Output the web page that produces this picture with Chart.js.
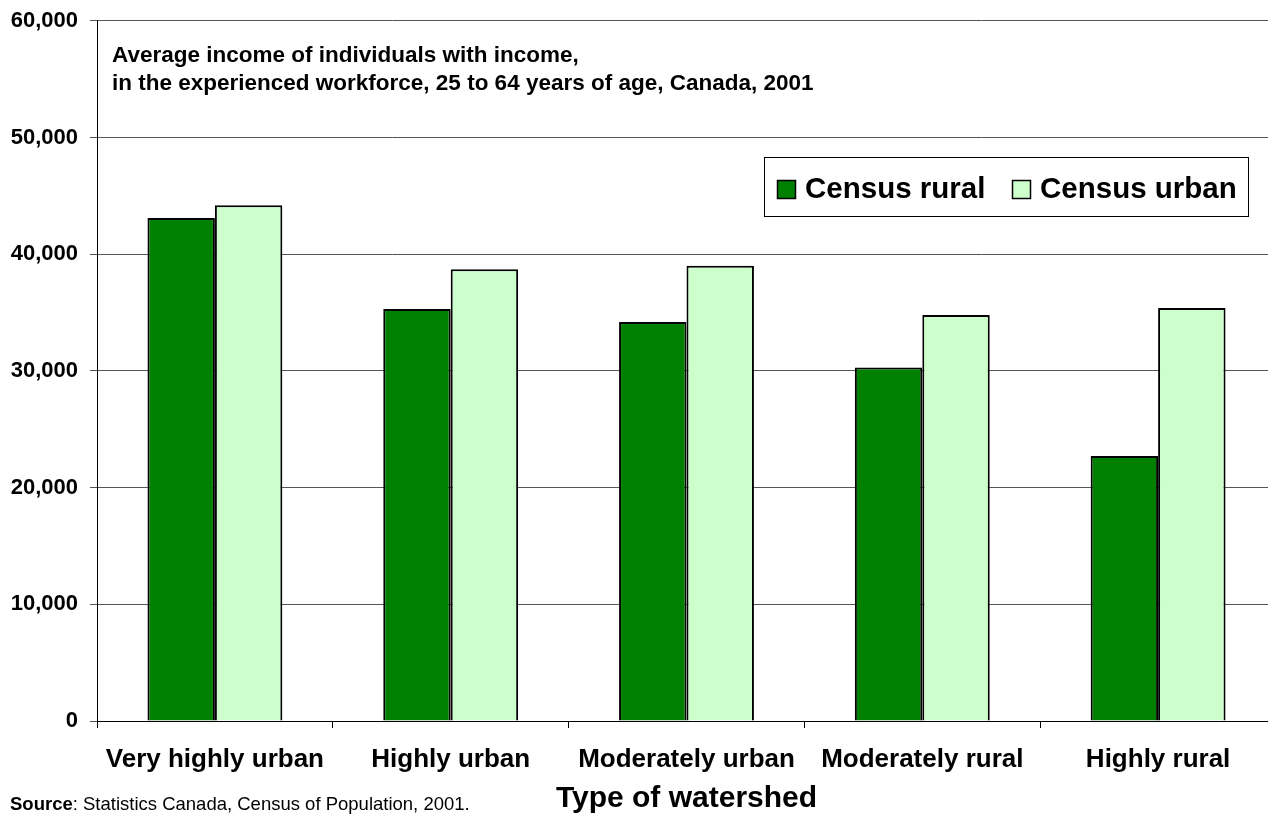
<!DOCTYPE html>
<html>
<head>
<meta charset="utf-8">
<script src="https://cdn.jsdelivr.net/npm/chart.js@4/dist/chart.umd.min.js"></script>
<style>
  body { margin: 0; overflow: hidden; background: #fff; }
  #wrap { position: relative; width: 1276px; height: 814px; }
  #source { position: absolute; left: 10px; top: 793px; font: 18.5px "Liberation Sans", Arial, sans-serif; color: #000; }
</style>
</head>
<body>
<div id="wrap">
  <canvas id="myChart"></canvas>
  <div id="source"><b>Source</b>: Statistics Canada, Census of Population, 2001.</div>
</div>
<script>
var categories = ['Very highly urban', 'Highly urban', 'Moderately urban', 'Moderately rural', 'Highly rural'];
var censusRural = [43100, 35300, 34200, 30300, 22700];
var censusUrban = [44200, 38700, 39000, 34800, 35400];
var titleLines = ['Average income of individuals with income,',
                  'in the experienced workforce, 25 to 64 years of age, Canada, 2001'];

var FONT = '"Liberation Sans", Arial, sans-serif';

// title text and legend box sit inside the plot area, so draw them by hand
var insidePlugin = {
  id: 'inside',
  afterDraw: function(chart) {
    var ctx = chart.ctx;
    ctx.save();
    ctx.fillStyle = '#000';
    ctx.font = 'bold 22.5px ' + FONT;
    ctx.textBaseline = 'middle';
    ctx.textAlign = 'left';
    ctx.fillText(titleLines[0], 112, 56);
    ctx.fillText(titleLines[1], 112, 84);

    // legend
    ctx.lineWidth = 1;
    ctx.strokeStyle = '#000';
    ctx.fillStyle = '#fff';
    ctx.fillRect(764.5, 157.5, 484, 59);
    ctx.strokeRect(764.5, 157.5, 484, 59);
    ctx.font = 'bold 29.5px ' + FONT;
    var xs = [777, 1012];
    chart.data.datasets.forEach(function(ds, i) {
      ctx.fillStyle = ds.backgroundColor;
      ctx.fillRect(xs[i] + 0.5, 180.5, 18, 18);
      ctx.lineWidth = 1.5;
      ctx.strokeRect(xs[i] + 0.5, 180.5, 18, 18);
      ctx.fillStyle = '#000';
      ctx.fillText(ds.label, xs[i] + 28, 190);
    });
    ctx.restore();
  }
};

var ctx = document.getElementById('myChart').getContext('2d');
var chart = new Chart(ctx, {
    type: 'bar',
    data: {
        labels: categories,
        datasets: [{
            label: 'Census rural',
            backgroundColor: '#008000',
            borderColor: '#000',
            borderWidth: 2,
            data: censusRural
        }, {
            label: 'Census urban',
            backgroundColor: '#CCFFCC',
            borderColor: '#000',
            borderWidth: 2,
            data: censusUrban
        }]
    },
    options: {
        responsive: true,
        maintainAspectRatio: false,
        animation: false,
        layout: { padding: { top: 20, left: 0, right: 0, bottom: 0 } },
        datasets: { bar: { categoryPercentage: 0.572, barPercentage: 1.0 } },
        plugins: {
            legend: { display: false },
            tooltip: { enabled: false }
        },
        scales: {
            x: {
                grid: { display: true, drawOnChartArea: false, drawTicks: true, tickLength: 7, color: '#000' },
                border: { color: '#000', width: 1 },
                ticks: { color: '#000', font: { family: FONT, size: 26, weight: 'bold' }, padding: 16, maxRotation: 0 },
                title: { display: true, text: 'Type of watershed', color: '#000',
                         font: { family: FONT, size: 30, weight: 'bold', lineHeight: 1.0 }, padding: { top: 0, bottom: 0 } },
                afterFit: function(scale) { scale.height = 93; }
            },
            y: {
                min: 0,
                max: 60000,
                grid: { color: '#555', lineWidth: 1, tickLength: 7 },
                border: { color: '#000', width: 1 },
                ticks: {
                    stepSize: 10000,
                    color: '#000',
                    padding: 12,
                    font: { family: FONT, size: 22, weight: 'bold', lineHeight: 0.8 },
                    callback: function(v) { return v.toLocaleString('en-US'); }
                },
                afterFit: function(scale) { scale.width = 97; }
            }
        }
    },
    plugins: [insidePlugin]
});
</script>
</body>
</html>
